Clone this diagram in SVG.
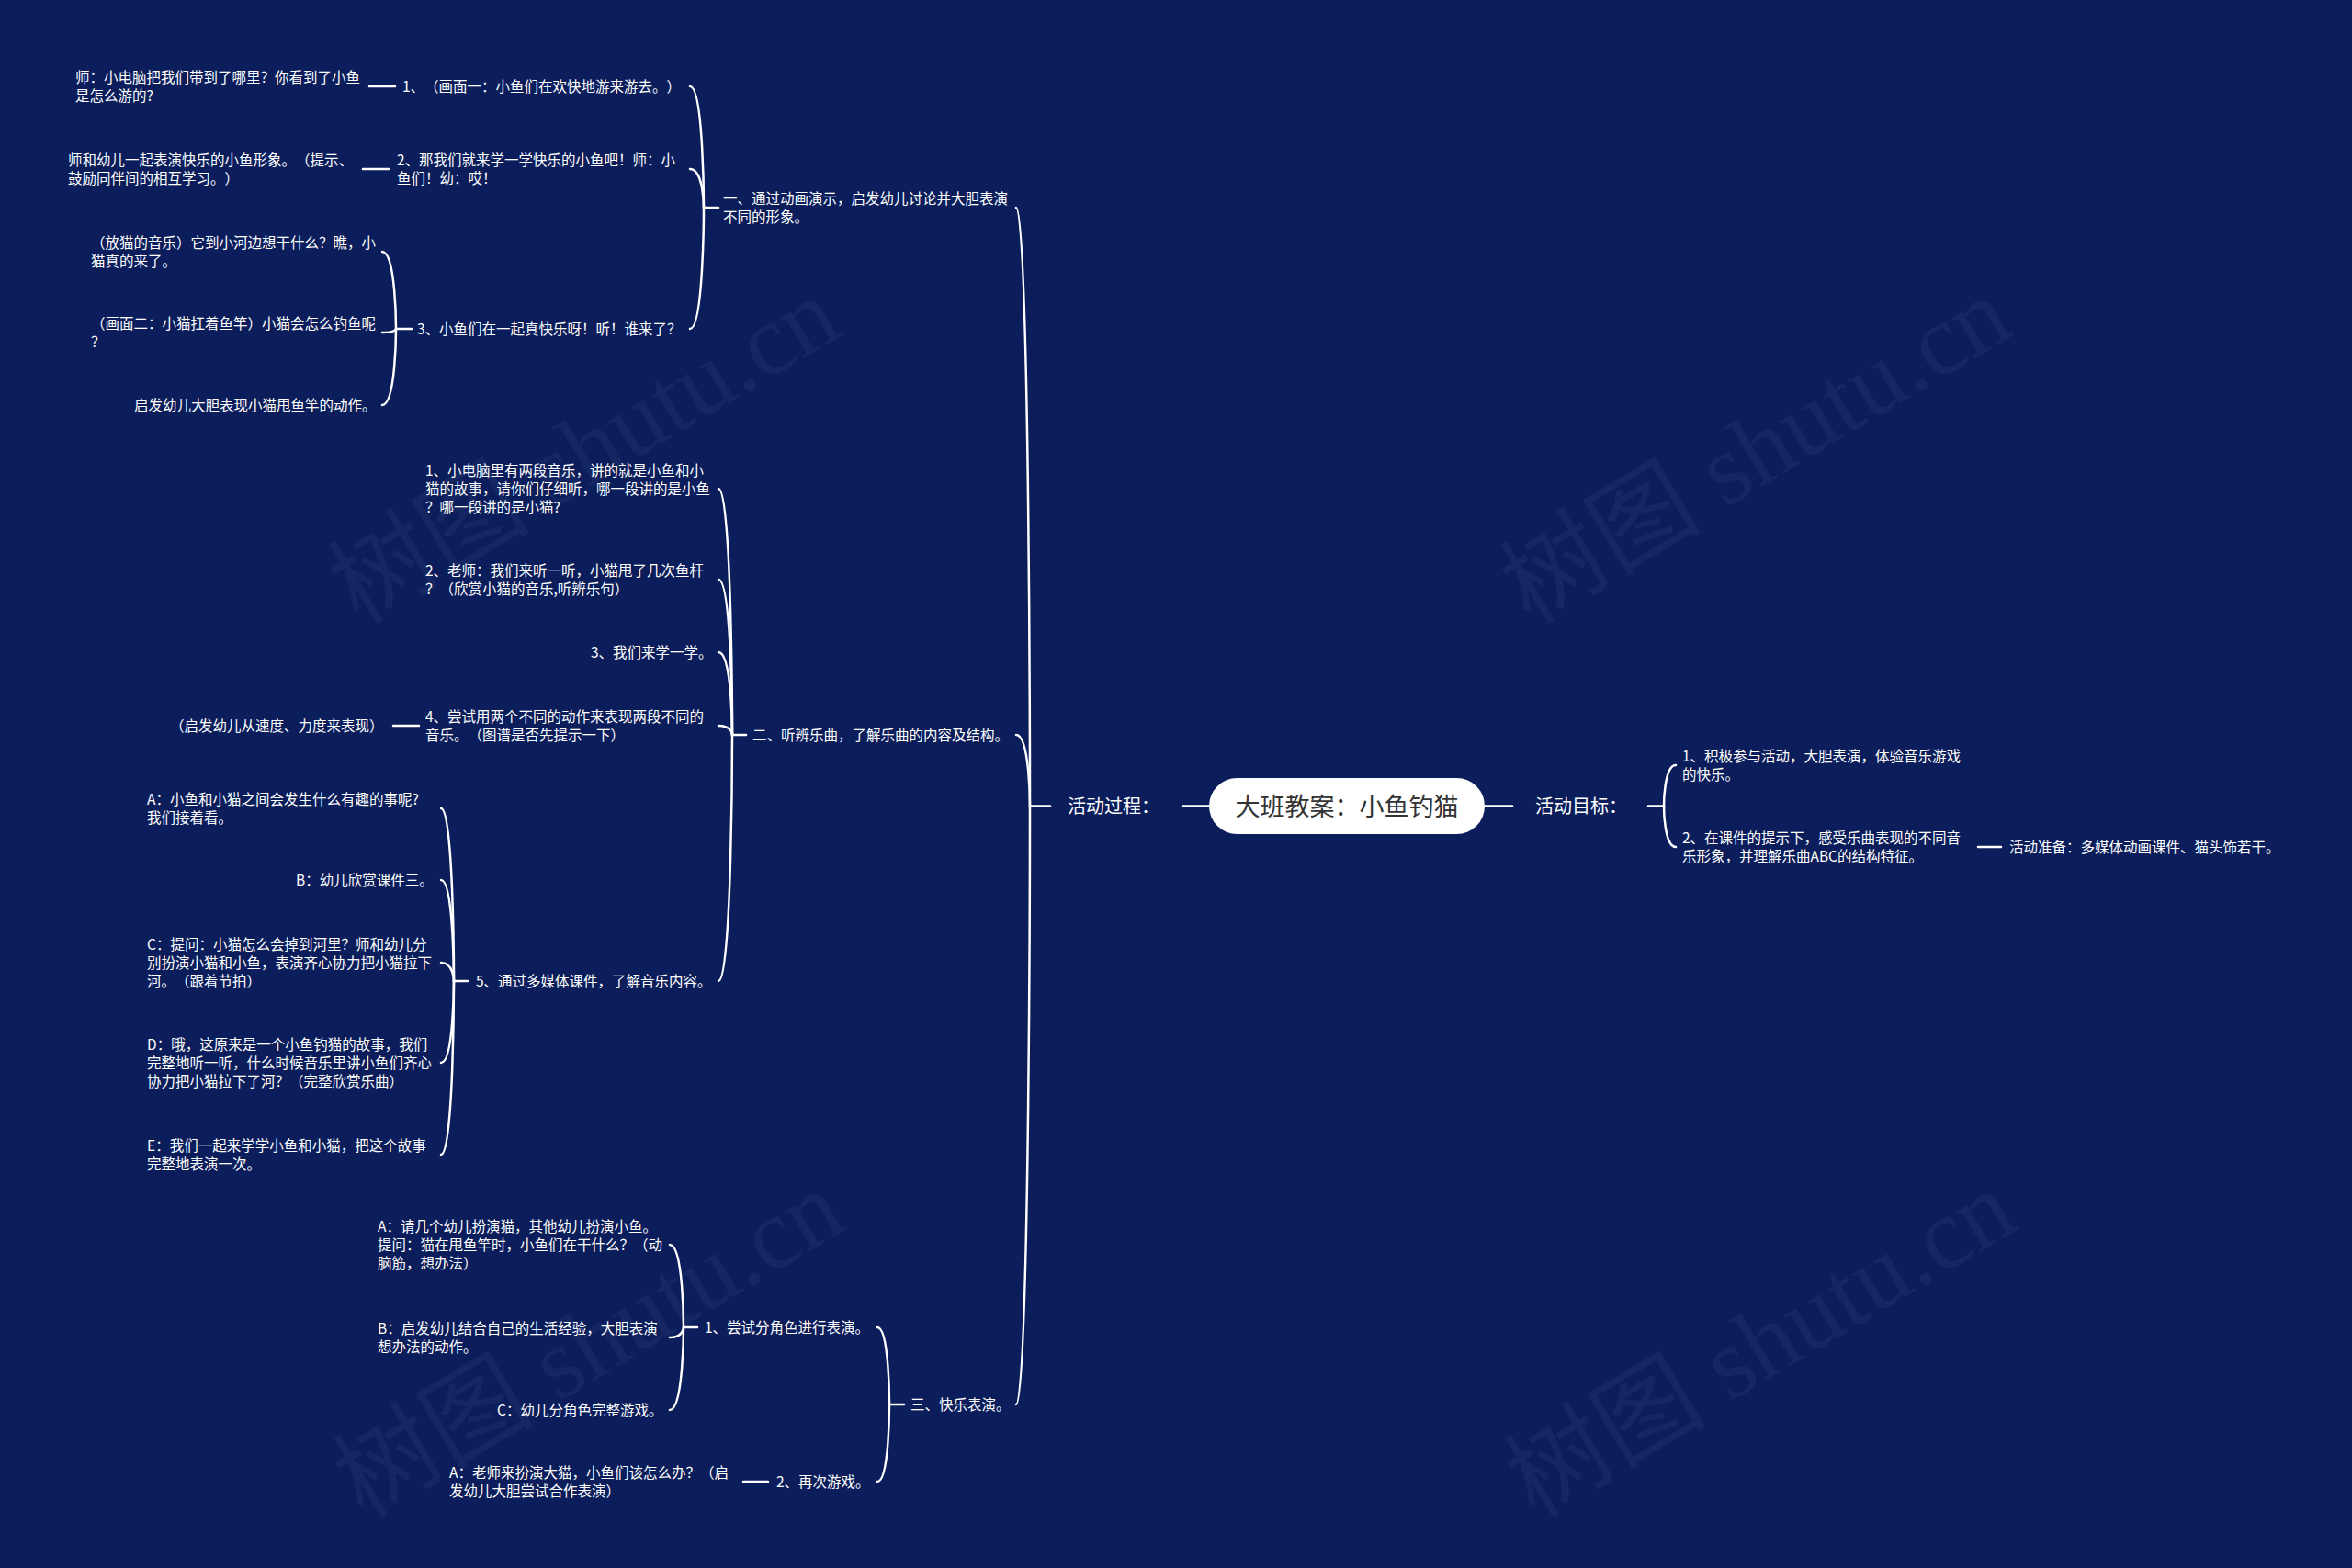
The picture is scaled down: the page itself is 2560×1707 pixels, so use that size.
<svg xmlns="http://www.w3.org/2000/svg" width="2560" height="1707" viewBox="0 0 2560 1707">
<style>
  .t{font-family:"Noto Sans CJK SC","Microsoft YaHei",sans-serif;font-size:15.5px;fill:#ffffff;text-spacing-trim:space-all}
  .l1{font-family:"Noto Sans CJK SC","Microsoft YaHei",sans-serif;font-size:20px;fill:#ffffff;text-spacing-trim:space-all}
  .root{font-family:"Noto Sans CJK SC","Microsoft YaHei",sans-serif;font-size:27px;fill:#333333;text-spacing-trim:space-all}
  .c{fill:none;stroke:#ffffff;stroke-width:2.5;stroke-linecap:round}
  .wm{font-family:"Liberation Serif","Noto Sans CJK SC",serif;font-size:110px;fill:#ffffff;fill-opacity:0.045}
</style>
<rect x="0" y="0" width="2560" height="1707" fill="#0b1e5b"/>
<g id="watermark">
  <text class="wm" x="655" y="522" text-anchor="middle" transform="rotate(-31 655 522)">树图 shutu.cn</text>
  <text class="wm" x="1930" y="522" text-anchor="middle" transform="rotate(-31 1930 522)">树图 shutu.cn</text>
  <text class="wm" x="660" y="1495" text-anchor="middle" transform="rotate(-31 660 1495)">树图 shutu.cn</text>
  <text class="wm" x="1935" y="1495" text-anchor="middle" transform="rotate(-31 1935 1495)">树图 shutu.cn</text>
</g>
<g id="connectors">
  <path class="c" d="M1316,877.5 L1287,877.5"/>
  <path class="c" d="M1616,877.5 L1646,877.5"/>
  <path class="c" d="M1143,877.5 L1121,877.5"/>
  <path class="c" d="M1121,877.5 C1121,877.5 1121,226 1106,226"/>
  <path class="c" d="M1121,877.5 C1121,877.5 1121,800 1106,800"/>
  <path class="c" d="M1121,877.5 C1121,877.5 1121,1529 1106,1529"/>
  <path class="c" d="M1794,877.5 L1811,877.5"/>
  <path class="c" d="M1811,877.5 C1811,877.5 1811,833 1824,833"/>
  <path class="c" d="M1811,877.5 C1811,877.5 1811,922 1824,922"/>
  <path class="c" d="M2153,922 L2178,922"/>
  <path class="c" d="M782,226 L766,226"/>
  <path class="c" d="M766,226 C766,226 766,94 751,94"/>
  <path class="c" d="M766,226 C766,226 766,184 751,184"/>
  <path class="c" d="M766,226 C766,226 766,358 751,358"/>
  <path class="c" d="M430,94 L402,94"/>
  <path class="c" d="M423,184 L395,184"/>
  <path class="c" d="M448,358 L431,358"/>
  <path class="c" d="M431,358 C431,358 431,274 416,274"/>
  <path class="c" d="M431,358 C431,358 431,362 416,362"/>
  <path class="c" d="M431,358 C431,358 431,441 416,441"/>
  <path class="c" d="M812,800 L797,800"/>
  <path class="c" d="M797,800 C797,800 797,532 782,532"/>
  <path class="c" d="M797,800 C797,800 797,631 782,631"/>
  <path class="c" d="M797,800 C797,800 797,710 782,710"/>
  <path class="c" d="M797,800 C797,800 797,790 782,790"/>
  <path class="c" d="M797,800 C797,800 797,1068 782,1068"/>
  <path class="c" d="M456,790 L428,790"/>
  <path class="c" d="M509,1068 L494,1068"/>
  <path class="c" d="M494,1068 C494,1068 494,880 480,880"/>
  <path class="c" d="M494,1068 C494,1068 494,958 480,958"/>
  <path class="c" d="M494,1068 C494,1068 494,1048 480,1048"/>
  <path class="c" d="M494,1068 C494,1068 494,1157 480,1157"/>
  <path class="c" d="M494,1068 C494,1068 494,1257 480,1257"/>
  <path class="c" d="M984,1529 L968,1529"/>
  <path class="c" d="M968,1529 C968,1529 968,1445 955,1445"/>
  <path class="c" d="M968,1529 C968,1529 968,1613 955,1613"/>
  <path class="c" d="M836,1613 L809,1613"/>
  <path class="c" d="M759,1445 L744,1445"/>
  <path class="c" d="M744,1445 C744,1445 744,1355 729,1355"/>
  <path class="c" d="M744,1445 C744,1445 744,1456 729,1456"/>
  <path class="c" d="M744,1445 C744,1445 744,1535 729,1535"/>
</g>
<g id="n-root">
  <rect x="1316" y="847" width="300" height="61" rx="30.5" ry="30.5" fill="#ffffff"/>
  <text class="root" x="1466" y="888" text-anchor="middle">大班教案：小鱼钓猫</text>
</g>
<g id="n-process"><text class="l1" x="1162" y="885">活动过程：</text></g>
<g id="n-goal"><text class="l1" x="1671" y="885">活动目标：</text></g>
<g id="n-g1"><text class="t" x="1831" y="829">1、积极参与活动，大胆表演，体验音乐游戏<tspan x="1831" dy="20">的快乐。</tspan></text></g>
<g id="n-g2"><text class="t" x="1831" y="918">2、在课件的提示下，感受乐曲表现的不同音<tspan x="1831" dy="20">乐形象，并理解乐曲ABC的结构特征。</tspan></text></g>
<g id="n-prep"><text class="t" x="2187" y="928">活动准备：多媒体动画课件、猫头饰若干。</text></g>

<g id="n-p1"><text class="t" x="787" y="222">一、通过动画演示，启发幼儿讨论并大胆表演<tspan x="787" dy="20">不同的形象。</tspan></text></g>
<g id="n-p1-1"><text class="t" x="438" y="100">1、（画面一：小鱼们在欢快地游来游去。）</text></g>
<g id="n-p1-1-1"><text class="t" x="82" y="90">师：小电脑把我们带到了哪里？你看到了小鱼<tspan x="82" dy="20">是怎么游的?</tspan></text></g>
<g id="n-p1-2"><text class="t" x="432" y="180">2、那我们就来学一学快乐的小鱼吧！师：小<tspan x="432" dy="20">鱼们！幼：哎！</tspan></text></g>
<g id="n-p1-2-1"><text class="t" x="74" y="180">师和幼儿一起表演快乐的小鱼形象。（提示、<tspan x="74" dy="20">鼓励同伴间的相互学习。）</tspan></text></g>
<g id="n-p1-3"><text class="t" x="454" y="364">3、小鱼们在一起真快乐呀！听！谁来了？</text></g>
<g id="n-p1-3-1"><text class="t" x="99" y="270">（放猫的音乐）它到小河边想干什么？瞧，小<tspan x="99" dy="20">猫真的来了。</tspan></text></g>
<g id="n-p1-3-2"><text class="t" x="99" y="358">（画面二：小猫扛着鱼竿）小猫会怎么钓鱼呢<tspan x="99" dy="20">？</tspan></text></g>
<g id="n-p1-3-3"><text class="t" x="146" y="447">启发幼儿大胆表现小猫甩鱼竿的动作。</text></g>

<g id="n-p2"><text class="t" x="819" y="806">二、听辨乐曲，了解乐曲的内容及结构。</text></g>
<g id="n-p2-1"><text class="t" x="463" y="518">1、小电脑里有两段音乐，讲的就是小鱼和小<tspan x="463" dy="20">猫的故事，请你们仔细听，哪一段讲的是小鱼</tspan><tspan x="463" dy="20">？哪一段讲的是小猫?</tspan></text></g>
<g id="n-p2-2"><text class="t" x="463" y="627">2、老师：我们来听一听，小猫甩了几次鱼杆<tspan x="463" dy="20">？（欣赏小猫的音乐,听辨乐句）</tspan></text></g>
<g id="n-p2-3"><text class="t" x="643" y="716">3、我们来学一学。</text></g>
<g id="n-p2-4"><text class="t" x="463" y="786">4、尝试用两个不同的动作来表现两段不同的<tspan x="463" dy="20">音乐。（图谱是否先提示一下）</tspan></text></g>
<g id="n-p2-4-1"><text class="t" x="185" y="796">（启发幼儿从速度、力度来表现）</text></g>
<g id="n-p2-5"><text class="t" x="518" y="1074">5、通过多媒体课件，了解音乐内容。</text></g>
<g id="n-p2-5-a"><text class="t" x="160" y="876">A：小鱼和小猫之间会发生什么有趣的事呢?<tspan x="160" dy="20">我们接着看。</tspan></text></g>
<g id="n-p2-5-b"><text class="t" x="322" y="964">B：幼儿欣赏课件三。</text></g>
<g id="n-p2-5-c"><text class="t" x="160" y="1034">C：提问：小猫怎么会掉到河里？师和幼儿分<tspan x="160" dy="20">别扮演小猫和小鱼，表演齐心协力把小猫拉下</tspan><tspan x="160" dy="20">河。（跟着节拍）</tspan></text></g>
<g id="n-p2-5-d"><text class="t" x="160" y="1143">D：哦，这原来是一个小鱼钓猫的故事，我们<tspan x="160" dy="20">完整地听一听，什么时候音乐里讲小鱼们齐心</tspan><tspan x="160" dy="20">协力把小猫拉下了河？（完整欣赏乐曲）</tspan></text></g>
<g id="n-p2-5-e"><text class="t" x="160" y="1253">E：我们一起来学学小鱼和小猫，把这个故事<tspan x="160" dy="20">完整地表演一次。</tspan></text></g>

<g id="n-p3"><text class="t" x="991" y="1535">三、快乐表演。</text></g>
<g id="n-p3-1"><text class="t" x="767" y="1451">1、尝试分角色进行表演。</text></g>
<g id="n-p3-1-a"><text class="t" x="411" y="1341">A：请几个幼儿扮演猫，其他幼儿扮演小鱼。<tspan x="411" dy="20">提问：猫在甩鱼竿时，小鱼们在干什么？（动</tspan><tspan x="411" dy="20">脑筋，想办法）</tspan></text></g>
<g id="n-p3-1-b"><text class="t" x="411" y="1452">B：启发幼儿结合自己的生活经验，大胆表演<tspan x="411" dy="20">想办法的动作。</tspan></text></g>
<g id="n-p3-1-c"><text class="t" x="541" y="1541">C：幼儿分角色完整游戏。</text></g>
<g id="n-p3-2"><text class="t" x="845" y="1619">2、再次游戏。</text></g>
<g id="n-p3-2-a"><text class="t" x="489" y="1609">A：老师来扮演大猫，小鱼们该怎么办？（启<tspan x="489" dy="20">发幼儿大胆尝试合作表演）</tspan></text></g>
</svg>
